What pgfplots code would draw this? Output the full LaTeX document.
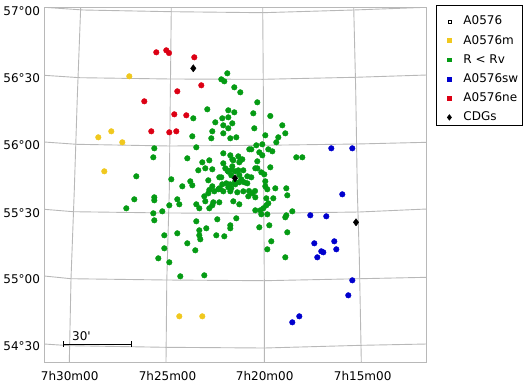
\documentclass[border=0pt]{standalone}
\usepackage{fontspec}
\setmainfont{DejaVu Sans}
\newfontfamily\plainf{DejaVu Sans}
\usepackage{pgfplots}
\pgfplotsset{compat=1.18}
\definecolor{gridc}{RGB}{184,184,184}
\definecolor{cyellow}{RGB}{240,200,30}
\definecolor{cgreen}{RGB}{5,155,20}
\definecolor{cblue}{RGB}{0,0,205}
\definecolor{cred}{RGB}{220,0,20}
\pgfplotsset{
    li/.style={only marks, legend image code/.code={
        \draw[##1] plot coordinates {(0pt,0pt)};
        \path[draw=none] (-11pt,0pt) -- (5pt,0pt);}},
    lifirst/.style={only marks, legend image code/.code={
        \draw[##1] plot coordinates {(0pt,0pt)};
        \path[draw=none] (-11pt,15pt) -- (5pt,0pt);}},
    pts/.style={only marks, mark=*, mark size=2.8pt, mark options={draw=none}},
}
\begin{document}
\begin{tikzpicture}
\path[use as bounding box] (-44.5pt,-24pt) rectangle (481.5pt,362pt);
\begin{axis}[
    scale only axis,
    width=382pt, height=355pt,
    xmin=44.5, xmax=426.5,
    ymin=7, ymax=362,
    y dir=reverse,
    clip=true,
    axis line style={gridc, line width=0.9pt},
    tick style={draw=none},
    font=\fontsize{12}{14}\selectfont,
    xtick={69.7,167.5,264.7,362.7},
    xticklabels={7h30m00,7h25m00,7h20m00,7h15m00},
    ytick={11,78,145,212.7,279,346},
    yticklabels={57°00,56°30,56°00,55°30,55°00,54°30},
    xticklabel style={yshift=-6pt},
    yticklabel style={xshift=-1pt},
    legend style={
        at={(1.0249,1.0056)}, anchor=north west,
        draw=black, line width=0.8pt,
        font=\fontsize{12}{14}\selectfont,
        legend cell align=left,
        inner xsep=2pt, inner ysep=1pt,
        row sep=5.2pt,
        column sep=7pt,
        nodes={text height=9.5pt, text depth=2.5pt, inner ysep=1pt},
    },
    every axis plot/.append style={forget plot},
]
% grid lines, slightly curved
\pgfplotsset{gl/.style={gridc, line width=0.9pt, no marks}}
\addplot[gl] coordinates {(80.7,7) (77.3,97) (74.3,190) (71,279) (69.3,362)};
\addplot[gl] coordinates {(171.3,7) (170.3,97) (169.3,190) (166.8,280) (166,362)};
\addplot[gl] coordinates {(262.7,7) (263.3,87) (263.7,190) (264.3,280) (264.3,362)};
\addplot[gl] coordinates {(353.7,7) (355.7,90) (357.3,190) (359.3,257) (361.3,362)};
\addplot[gl] coordinates {(44.3,7.3) (83.3,10) (171.3,11.7) (262.7,12.7) (353.7,10) (426.7,7.3)};
\addplot[gl] coordinates {(44.3,75.3) (80,77.7) (170.7,79) (263,79.3) (355,77.3) (426.7,75)};
\addplot[gl] coordinates {(44.3,142) (76.7,144.3) (170,146) (263.3,145.3) (356.7,144) (426.7,142.3)};
\addplot[gl] coordinates {(44.3,209.3) (73.3,211.7) (167.7,213) (263.3,213.3) (359,212) (426.7,209)};
\addplot[gl] coordinates {(44.3,276) (71,278.7) (166.7,280) (264.3,280.7) (360,278.7) (426.7,277.3)};
\addplot[gl] coordinates {(44.3,344) (70,345.7) (166,347.3) (264.3,348) (361.3,345.3) (426.7,344)};
% scale bar
\addplot[black, line width=0.8pt, mark=|, mark size=3pt, mark options={solid,line width=0.8pt}] coordinates {(63.3,344.3) (131.3,344.3)};
\node[font=\fontsize{12}{14}\plainf, inner sep=0pt] at (axis cs:81.5,336) {30'};
% yellow: A0576m
\addplot[pts, cyellow] coordinates {
(129.3,76.3) (111.3,131.3) (98.3,137.3) (122.3,142.3) (104.3,171.3) (179.3,316.3) (202.3,316.3)};
% green: R < Rv
\addplot[pts, cgreen] coordinates {
(207.3,109.3) (193.3,118.3) (215.3,122.3) (212.3,131.3) (192.3,136.3) (211.3,138.3) (154.3,148.3) (196.3,147.3)
(153.3,157.3) (187.3,158.3) (209.3,160.3) (202.3,162.3) (205.3,168.3) (212.3,169.3) (198.3,170.3) (136.3,176.3)
(171.3,179.3) (190.3,181.3) (208.3,180.3) (182.3,186.3) (192.3,185.3) (212.3,186.3) (219.3,177.3) (218.3,189.3)
(227.3,73.3) (221.3,79.3) (224.3,81.3) (234.3,87.3) (240.3,92.3) (257.3,102.3) (228.3,110.3) (234.3,112.3)
(253.3,113.3) (270.3,116) (222.3,118.3) (228.3,117.3) (232.3,123.3) (223.3,125.3) (228.3,128.3) (254.3,128.3)
(282.3,125.3) (223.3,133.3) (285.3,133.3) (265.3,135.3) (236.3,137.3) (230.3,138.3) (278.3,137.3) (276.3,142.3)
(256.3,145.3) (262.3,144.3) (249.3,149.3) (251.3,149.3) (268.3,149.3) (272.3,151.3) (259.3,152.3) (262.3,155.3)
(223.3,153.3) (230.3,155.3) (238.3,156.3) (296.3,157.3) (302.3,157.3) (232.3,159.3) (233.3,160.3) (242.3,159.3)
(240.3,160.3) (239.3,162.3) (257.3,161.3) (223.3,163.3) (232.3,166.3) (270.3,167.3) (255.3,168.3) (257.3,168.3)
(225.3,168.3) (227.3,170.3) (238.3,170.3) (243.3,170.3) (235.3,171.3) (261.3,172.3) (264.3,174.3) (231.3,175.3)
(221.3,177.3) (247.3,176.3) (251.3,177.3) (241.3,179.3) (239.3,182.3) (244.3,182.3) (247.3,183.3) (222.3,184.3)
(226.3,183.3) (230.3,184.3) (235.3,184.3) (265.3,181.3) (265.3,186.3) (219.3,188.3) (228.3,187.3) (231.3,188.3)
(275.3,188.3) (286.3,188.3) (267.3,189.3) (228.3,171.7) (231.7,170) (239.3,175) (235,181.7) (220,189) (209.3,190)
(134.3,199.3) (154.3,197.3) (154.3,200.3) (177.3,199.3) (126.3,208.3) (169.3,205.3) (179.3,204.3) (196.3,204.3)
(199.3,208.3) (204.3,196.3) (208.3,193.3) (205.3,201.3) (213.3,202.3) (212.3,205.3) (209.3,208.3) (219.3,202.3)
(214.3,191.3) (153.3,213.3) (162.3,211.3) (154.3,220.3) (196.3,221.3) (217.3,219.3) (199.3,230.3) (206.3,228.3)
(164.3,235.3) (177.3,233.3) (199.3,235.3) (200.3,239.3) (216.3,235.3) (187.3,243.3) (164.3,248.3) (195.3,250.3)
(158.3,258.3) (169.3,262.3) (180.3,276.3) (204.3,275.3)
(287.3,195.3) (273.3,198.3) (266.3,198.3) (255.3,197.3) (248.3,196.3) (252.3,193.3) (237.3,192.3) (243.3,191.3)
(230.3,191.3) (223.3,191.3) (249,191) (255,191) (233.3,201.3) (239.3,204.3) (268.3,203.3) (266.3,205.3) (263.3,208.3)
(255.3,210.3) (260.3,210.3) (261.3,214.3) (267.3,214.3) (292.3,211.3) (286.3,215.3) (285.3,217.3) (236.3,218.3)
(230.3,225.3) (230.3,228.3) (269.3,225.3) (259.3,227.3) (287.3,232.3) (224.3,236.3) (271.3,241.3) (267.3,249.3) (285.3,257.3)};
% blue: A0576sw
\addplot[pts, cblue] coordinates {
(331.3,148.3) (352.3,148.3) (342.3,194.3) (310.3,215.3) (326.3,216.3) (314.3,243.3) (334.3,241.3) (336.3,249.3)
(321.3,251.3) (323.3,252.3) (317.3,257.3) (352.3,280.3) (348.3,295.3) (299.3,316.3) (292.3,322.3)};
% red: A0576ne
\addplot[pts, cred] coordinates {
(156.3,52.3) (166.3,50.3) (169,53) (194.3,57.3) (201.3,85.3) (177.3,91.3) (144.3,101.3) (174.3,114.3)
(186.3,115.3) (151.3,131.3) (169.3,132.3) (176.3,131.3)};
% CDGs
\addplot[only marks, mark=diamond*, mark size=3.6pt, black] coordinates {
(193.3,68.3) (235,178.3) (356,222.3)};
% legend
\addlegendimage{lifirst, mark=square, mark size=1.5pt, black, mark options={line width=0.6pt}}
\addlegendentry{A0576}
\addlegendimage{li, mark=square*, mark size=1.9pt, cyellow}
\addlegendentry{A0576m}
\addlegendimage{li, mark=square*, mark size=1.9pt, cgreen}
\addlegendentry{R < Rv}
\addlegendimage{li, mark=square*, mark size=1.9pt, cblue}
\addlegendentry{A0576sw}
\addlegendimage{li, mark=square*, mark size=1.9pt, cred}
\addlegendentry{A0576ne}
\addlegendimage{li, mark=diamond*, mark size=2.6pt, black}
\addlegendentry{CDGs}
\end{axis}
\end{tikzpicture}
\end{document}
